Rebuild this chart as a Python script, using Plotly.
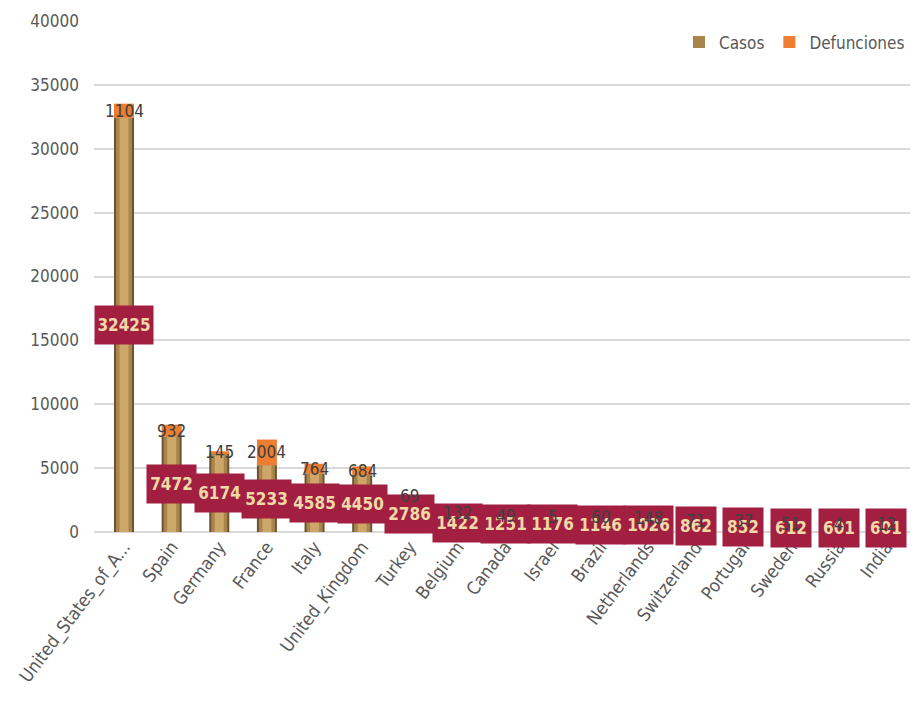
import plotly.graph_objects as go

countries = ["United_States_of_A...", "Spain", "Germany", "France", "Italy",
             "United_Kingdom", "Turkey", "Belgium", "Canada", "Israel", "Brazil",
             "Netherlands", "Switzerland", "Portugal", "Sweden", "Russia", "India"]
casos = [32425, 7472, 6174, 5233, 4585, 4450, 2786, 1422, 1251, 1176, 1146,
         1026, 862, 852, 612, 601, 601]
defunciones = [1104, 932, 145, 2004, 764, 684, 69, 132, 49, 5, 60,
               148, 71, 37, 51, 4, 12]

FONT = "DejaVu Sans Condensed, Roboto, sans-serif"
BW = 0.42

fig = go.Figure()
# Casos: layered bars to imitate a golden cylinder
fig.add_trace(go.Bar(x=countries, y=casos, width=BW, name="Casos",
                     marker=dict(color="#6E5230", line=dict(width=0)),
                     showlegend=False))
fig.add_trace(go.Bar(x=countries, y=casos, width=BW * 0.8, name="Casos",
                     marker=dict(color="#A9844C", line=dict(width=0)),
                     showlegend=True, legendrank=1))
fig.add_trace(go.Bar(x=countries, y=casos, width=BW * 0.45, name="Casos",
                     marker=dict(color="#CDA669", line=dict(width=0)),
                     showlegend=False, hoverinfo="skip"))
fig.add_trace(go.Bar(x=countries, y=defunciones, base=casos, width=BW,
                     name="Defunciones",
                     marker=dict(color="#ED7D31", line=dict(width=0)),
                     legendrank=2))

annotations = []
for c, v in zip(countries, casos):
    t = str(v)
    annotations.append(dict(x=c, y=v / 2, text="<b>%s</b>" % t, showarrow=False,
                            bgcolor="#A21F42", borderpad=0,
                            width=9 * len(t) + 13, height=38,
                            font=dict(family=FONT, size=17, color="#F0D9A6"),
                            xref="x", yref="y"))
for c, v, d in zip(countries, casos, defunciones):
    annotations.append(dict(x=c, y=v + d / 2, text=str(d), showarrow=False,
                            font=dict(family=FONT, size=17, color="#404040"),
                            xref="x", yref="y"))

fig.update_layout(
    width=914, height=700,
    margin=dict(l=86, r=12, t=13, b=176),
    barmode="overlay",
    plot_bgcolor="white", paper_bgcolor="white",
    font=dict(family=FONT, color="#595959"),
    legend=dict(orientation="h", x=1.0, xanchor="right", y=0.958,
                yanchor="middle", font=dict(size=17, color="#595959"),
                bgcolor="rgba(0,0,0,0)", traceorder="normal",
                itemwidth=30),
    annotations=annotations,
    xaxis=dict(tickangle=-53, tickfont=dict(size=18, color="#595959"),
               showgrid=False, showline=False, ticks="", automargin=False),
    yaxis=dict(range=[0, 40000], dtick=5000, tickformat="d",
               tickfont=dict(size=17, color="#595959"),
               gridcolor="#D9D9D9", gridwidth=1.5, zeroline=True,
               zerolinecolor="#D9D9D9", zerolinewidth=1.5,
               ticklabelstandoff=14, showline=False, automargin=False),
)

fig.write_html("out.html")
